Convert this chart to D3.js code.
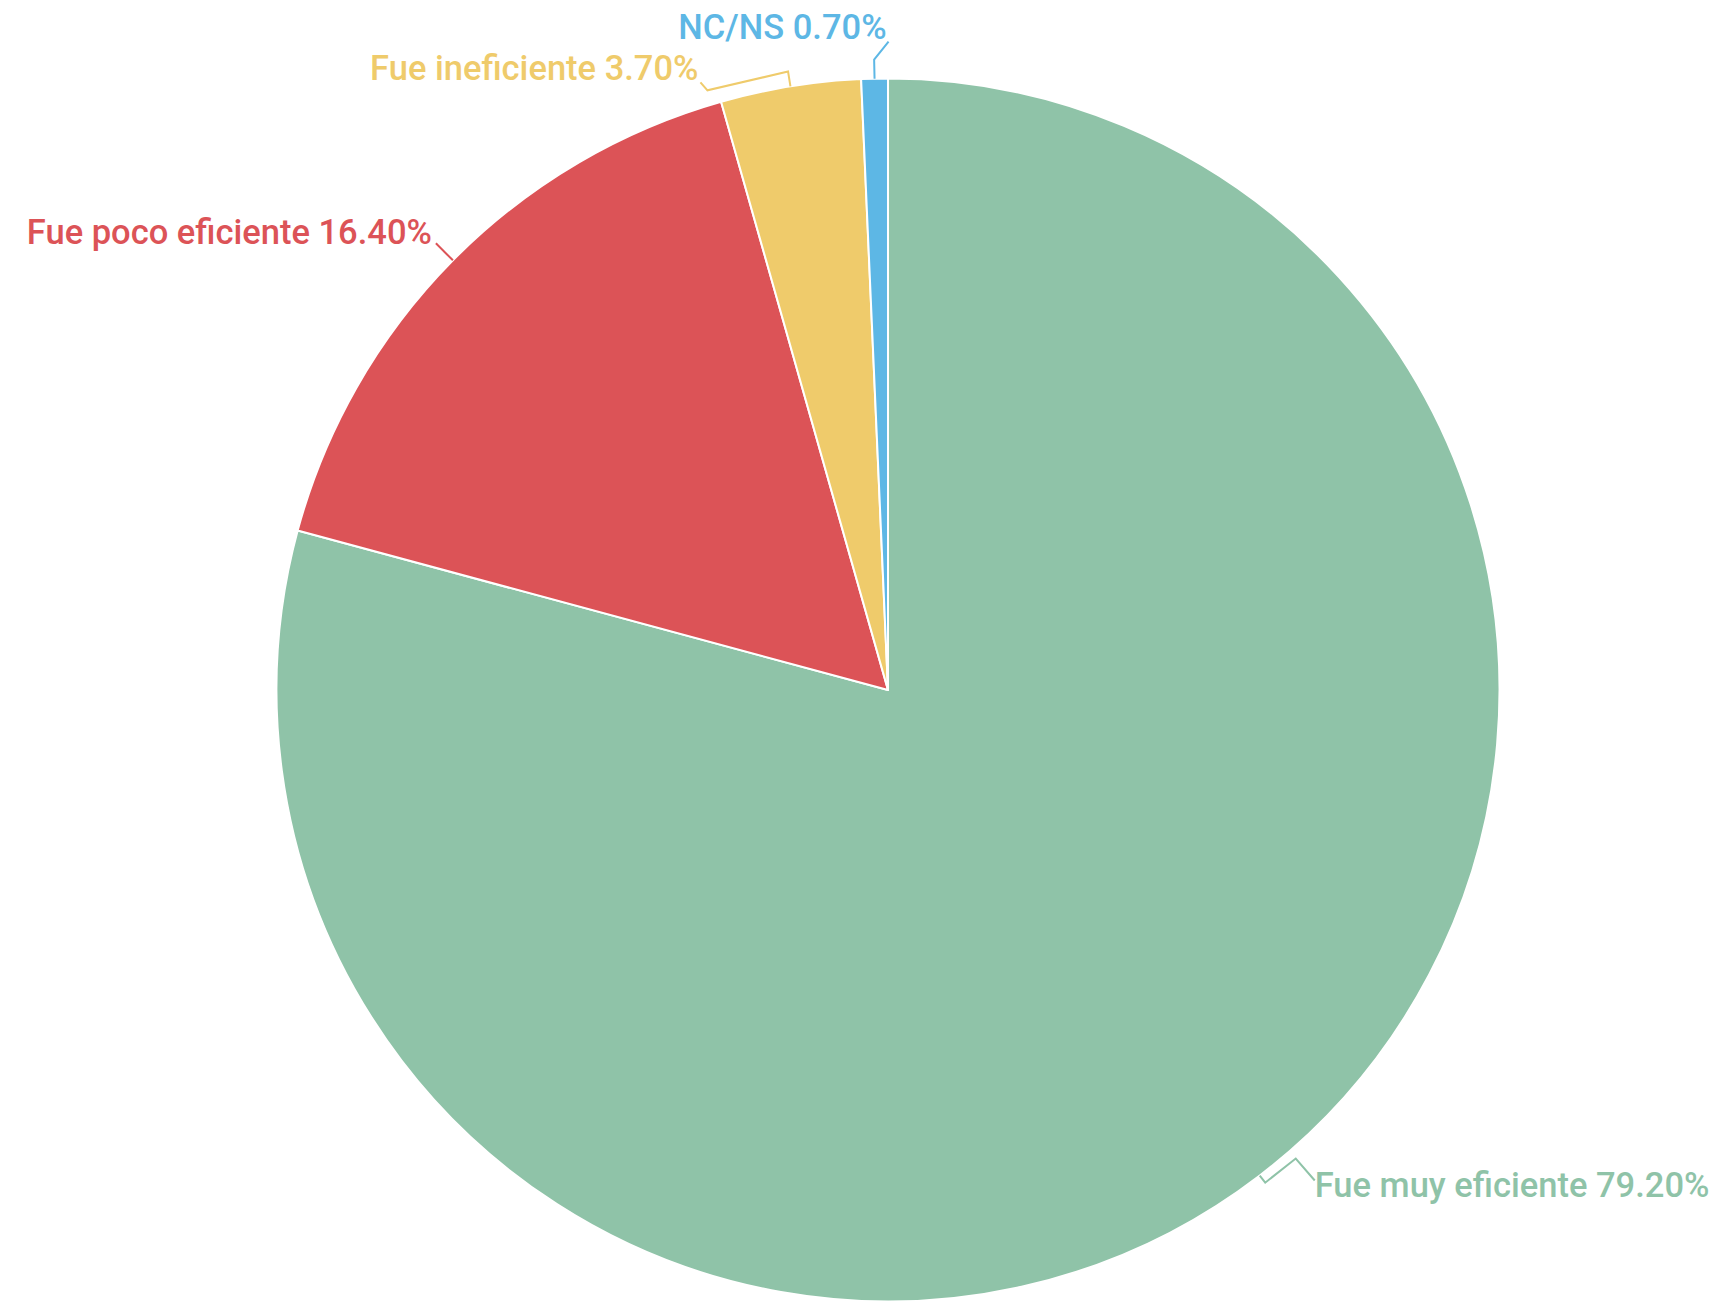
<!DOCTYPE html>
<html>
<head>
<meta charset="utf-8">
<script src="https://cdn.jsdelivr.net/npm/d3@7"></script>
<style>
  html, body { margin: 0; padding: 0; background: #ffffff; }
  svg { display: block; }
  text { font-family: Roboto, "Noto Sans", sans-serif; font-weight: 500; }
</style>
</head>
<body>
<svg id="chart" width="1721" height="1303"></svg>
<script>
// ---- data ----
const categories = ["Fue muy eficiente", "Fue poco eficiente", "Fue ineficiente", "NC/NS"];
const values = [79.2, 16.4, 3.7, 0.7];
const colors = ["#8fc3a8", "#dc5357", "#efcb6b", "#5db7e5"];

// ---- layout (label placement relative to slice edge) ----
const labelOffsets = [[55, 21], [-21, -16], [-92, -6], [12, -40]];
const labelAnchors = ["start", "end", "end", "end"];
const connectorRadial = [9, 0, 15, 19];
const connectorEnd = [[55, 5], [-17, -17], [-90, -4], [14, -37]];
const connectorBend = [[-19, -22], [0, 0], [7, 8], [0, 0]];

const W = 1721, H = 1303;
const cx = 888, cy = 690, R = 611.5;

const svg = d3.select("#chart");
const g = svg.append("g").attr("transform", `translate(${cx},${cy})`);

const data = categories.map((c, i) => ({ name: c, value: values[i], color: colors[i], i }));

const pie = d3.pie().sort(null).value(d => d.value).startAngle(0).endAngle(2 * Math.PI);
const arcs = pie(data);
const arc = d3.arc().innerRadius(0).outerRadius(R);

g.selectAll("path.slice")
  .data(arcs)
  .join("path")
  .attr("class", "slice")
  .attr("d", arc)
  .attr("fill", d => d.data.color)
  .attr("stroke", "#ffffff")
  .attr("stroke-width", 2)
  .attr("stroke-linejoin", "round");

function edgePoint(d, r) {
  const a = (d.startAngle + d.endAngle) / 2;
  return [Math.sin(a) * r, -Math.cos(a) * r];
}

// connectors
g.selectAll("path.conn")
  .data(arcs)
  .join("path")
  .attr("class", "conn")
  .attr("fill", "none")
  .attr("stroke", d => d.data.color)
  .attr("stroke-width", 2)
  .attr("d", d => {
    const i = d.data.i;
    const p0 = edgePoint(d, R);
    const p1 = edgePoint(d, R + connectorRadial[i]);
    const p3 = [p0[0] + connectorEnd[i][0], p0[1] + connectorEnd[i][1]];
    const p2 = [p3[0] + connectorBend[i][0], p3[1] + connectorBend[i][1]];
    return d3.line()([p0, p1, p2, p3]);
  });

// labels
g.selectAll("text.lbl")
  .data(arcs)
  .join("text")
  .attr("class", "lbl")
  .attr("x", d => edgePoint(d, R)[0] + labelOffsets[d.data.i][0])
  .attr("y", d => edgePoint(d, R)[1] + labelOffsets[d.data.i][1])
  .attr("text-anchor", d => labelAnchors[d.data.i])
  .attr("fill", d => d.data.color)
  .attr("font-size", 34.5)
  .text(d => `${d.data.name} ${d.data.value.toFixed(2)}%`);
</script>
</body>
</html>
